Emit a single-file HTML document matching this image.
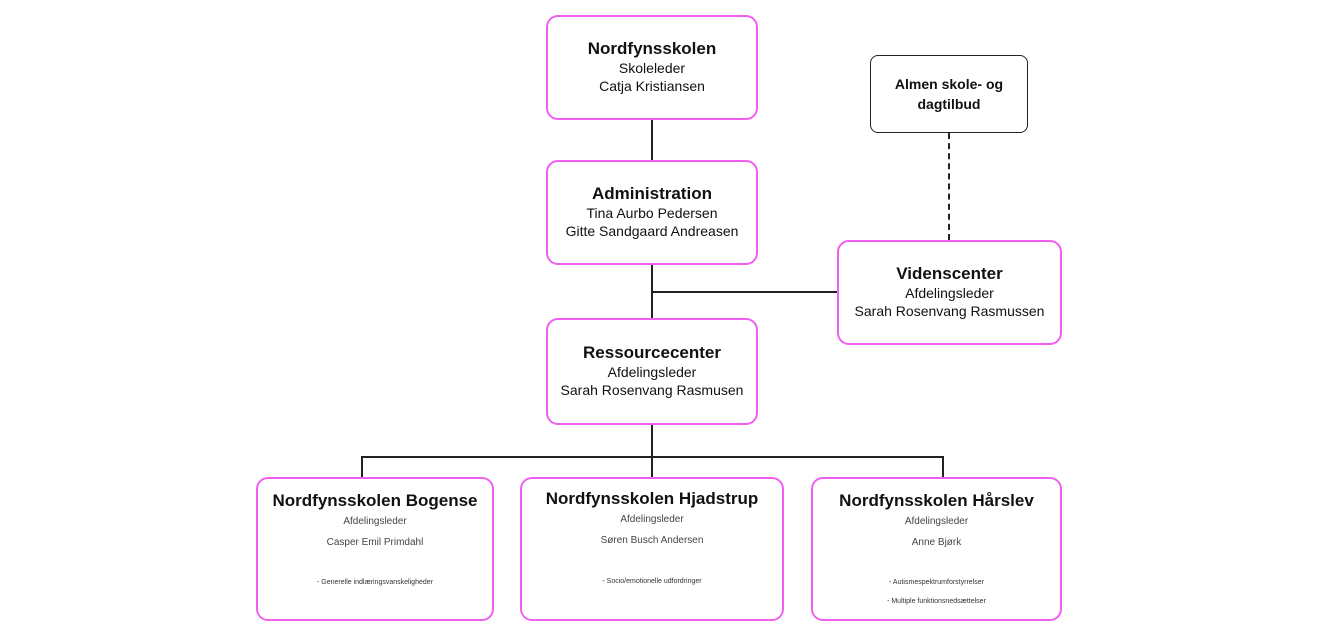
<!DOCTYPE html>
<html><head><meta charset="utf-8"><style>
body{margin:0;width:1320px;height:640px;background:#fff;position:relative;overflow:hidden;font-family:"Liberation Sans",sans-serif;color:#111}
.b{position:absolute;box-sizing:border-box;border:2px solid #f060f0;border-radius:12px;background:#fff;text-align:center}
.t{font-weight:bold;font-size:17px;line-height:20px}
.s{font-size:14px;line-height:18px}
.l{position:absolute;background:#222}
.sm{font-size:10px;color:#444;line-height:21px}
.xs{font-size:7px;color:#333;line-height:19px}
</style></head><body>
<div class="l" style="left:651px;top:120px;width:2px;height:40px"></div>
<div class="l" style="left:651px;top:265px;width:2px;height:53px"></div>
<div class="l" style="left:652px;top:291px;width:185px;height:2px"></div>
<div class="l" style="left:651px;top:425px;width:2px;height:52px"></div>
<div class="l" style="left:362px;top:456px;width:582px;height:2px"></div>
<div class="l" style="left:361px;top:456px;width:2px;height:21px"></div>
<div class="l" style="left:942px;top:456px;width:2px;height:21px"></div>
<div style="position:absolute;left:948px;top:133px;height:107px;border-left:2px dashed #222"></div>

<div class="b" style="left:546px;top:15px;width:212px;height:105px;padding-top:22px"><div class="t">Nordfynsskolen</div><div class="s">Skoleleder<br>Catja Kristiansen</div></div>
<div class="b" style="left:546px;top:160px;width:212px;height:105px;padding-top:22px"><div class="t">Administration</div><div class="s">Tina Aurbo Pedersen<br>Gitte Sandgaard Andreasen</div></div>
<div class="b" style="left:546px;top:318px;width:212px;height:107px;padding-top:23px"><div class="t">Ressourcecenter</div><div class="s">Afdelingsleder<br>Sarah Rosenvang Rasmusen</div></div>
<div class="b" style="left:837px;top:240px;width:225px;height:105px;padding-top:22px"><div class="t">Videnscenter</div><div class="s">Afdelingsleder<br>Sarah Rosenvang Rasmussen</div></div>
<div class="b" style="left:870px;top:55px;width:158px;height:78px;border-color:#222;border-width:1.5px;border-radius:8px;padding-top:18px;font-weight:bold;font-size:14px;line-height:20px">Almen skole- og<br>dagtilbud</div>

<div class="b" style="left:256px;top:477px;width:238px;height:144px;padding-top:12px"><div class="t">Nordfynsskolen Bogense</div><div class="sm">Afdelingsleder<br>Casper Emil Primdahl</div><div class="xs" style="margin-top:20px">- Generelle indlæringsvanskeligheder</div></div>
<div class="b" style="left:520px;top:477px;width:264px;height:144px;padding-top:10px"><div class="t">Nordfynsskolen Hjadstrup</div><div class="sm">Afdelingsleder<br>Søren Busch Andersen</div><div class="xs" style="margin-top:21px">- Socio/emotionelle udfordringer</div></div>
<div class="b" style="left:811px;top:477px;width:251px;height:144px;padding-top:12px"><div class="t">Nordfynsskolen Hårslev</div><div class="sm">Afdelingsleder<br>Anne Bjørk</div><div class="xs" style="margin-top:20px">- Autismespektrumforstyrrelser<br>- Multiple funktionsnedsættelser</div></div>
</body></html>
